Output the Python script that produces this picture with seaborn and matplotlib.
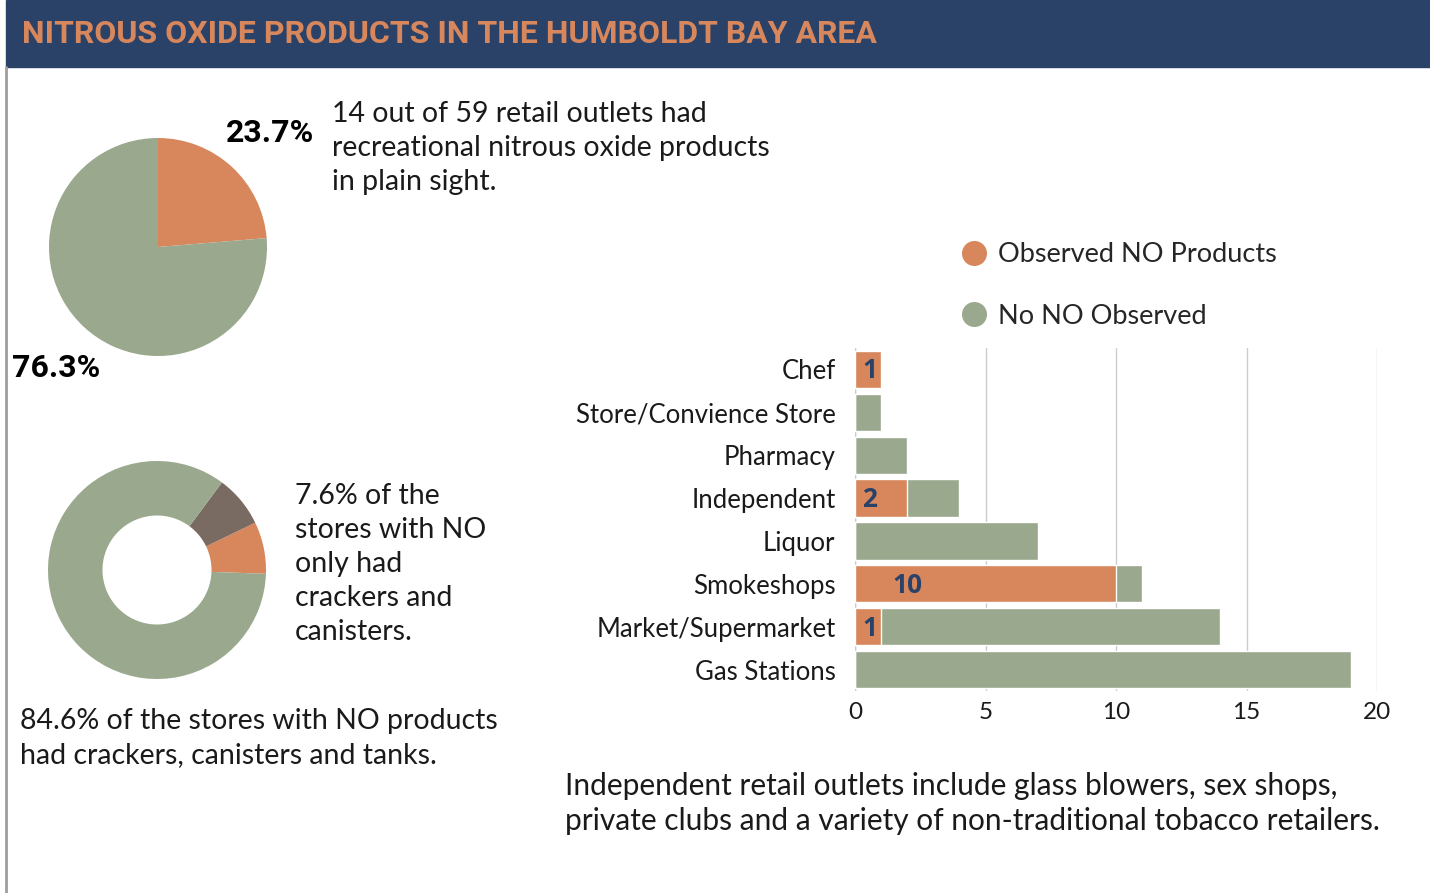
import matplotlib
matplotlib.use("Agg")
import matplotlib.pyplot as plt
from matplotlib import font_manager
from matplotlib.lines import Line2D
from matplotlib.patches import Rectangle
import seaborn as sns
import pandas as pd

# data
categories = ["Chef", "Store/Convience Store", "Pharmacy", "Independent",
              "Liquor", "Smokeshops", "Market/Supermarket", "Gas Stations"]
observed = [1, 0, 0, 2, 0, 10, 1, 0]
not_observed = [0, 1, 2, 2, 7, 1, 13, 19]
pie_values = [23.7, 76.3]
pie_labels = ["23.7%", "76.3%"]
donut_values = [7.7, 7.7, 84.6]   # crackers+canisters only, other, crackers/canisters/tanks
x_ticks = [0, 5, 10, 15, 20]

ORANGE = "#d8875c"
GREEN = "#9aa88e"
BROWN = "#7a6b62"
NAVY = "#2b4268"
INK = "#1a1a1a"

W, H = 1430, 893

installed = {f.name for f in font_manager.fontManager.ttflist}
narrow = next((f for f in ["Liberation Sans Narrow", "DejaVu Sans Condensed", "Roboto", "DejaVu Sans"]
               if f in installed), "DejaVu Sans")
body = next((f for f in ["Lato", "Open Sans", "DejaVu Sans"] if f in installed), "DejaVu Sans")
label_font = next((f for f in ["Open Sans", "Roboto", "DejaVu Sans"] if f in installed), "DejaVu Sans")

sns.set_theme(style="white")
plt.rcParams["font.family"] = [body, "DejaVu Sans"]

fig = plt.figure(figsize=(W / 100, H / 100), dpi=100)


def box(left, top, width, height):
    return [left / W, (H - top - height) / H, width / W, height / H]


# header band + left rule
fig.add_artist(Rectangle((6 / W, (H - 67) / H), 1 - 6 / W, 67 / H,
                         transform=fig.transFigure, color=NAVY, zorder=0))
fig.add_artist(Line2D([6 / W, 6 / W], [0, (H - 67) / H], transform=fig.transFigure,
                      color="#a39c9c", lw=2))
fig.text(22 / W, 1 - 34 / H, "NITROUS OXIDE PRODUCTS IN THE HUMBOLDT BAY AREA",
         family=narrow, weight="bold", color=ORANGE, fontsize=23, va="center", ha="left")

# pie
ax_pie = fig.add_axes(box(49, 138, 218, 218))
ax_pie.pie(pie_values, colors=[ORANGE, GREEN], startangle=90, counterclock=False,
           wedgeprops=dict(linewidth=0))
ax_pie.set_xlim(-1, 1)
ax_pie.set_ylim(-1, 1)
ax_pie.set_aspect("equal")
fig.text(226 / W, 1 - 133 / H, pie_labels[0], family=narrow, weight="bold",
         fontsize=23, va="center", ha="left", color="black")
fig.text(12 / W, 1 - 368 / H, pie_labels[1], family=narrow, weight="bold",
         fontsize=23, va="center", ha="left", color="black")
fig.text(332 / W, 1 - 101 / H,
         "14 out of 59 retail outlets had\nrecreational nitrous oxide products\nin plain sight.",
         fontsize=20.5, va="top", ha="left", color=INK, linespacing=1.38)

# donut
ax_don = fig.add_axes(box(48, 461, 218, 218))
ax_don.pie(donut_values, colors=[ORANGE, BROWN, GREEN], startangle=-2,
           wedgeprops=dict(width=0.5, linewidth=0))
ax_don.set_xlim(-1, 1)
ax_don.set_ylim(-1, 1)
ax_don.set_aspect("equal")
fig.text(295 / W, 1 - 483 / H,
         "7.6% of the\nstores with NO\nonly had\ncrackers and\ncanisters.",
         fontsize=20.5, va="top", ha="left", color=INK, linespacing=1.38)
fig.text(20 / W, 1 - 708 / H,
         "84.6% of the stores with NO products\nhad crackers, canisters and tanks.",
         fontsize=20.5, va="top", ha="left", color=INK, linespacing=1.38)

# stacked bars
df = pd.DataFrame({"category": categories, "observed": observed,
                   "not_observed": not_observed})
df["total"] = df["observed"] + df["not_observed"]

ax = fig.add_axes(box(855, 348, 522, 343))
sns.barplot(data=df, x="total", y="category", color=GREEN, width=0.87,
            saturation=1, ax=ax, zorder=2)
sns.barplot(data=df, x="observed", y="category", color=ORANGE, width=0.87,
            saturation=1, ax=ax, zorder=3)
for i, v in enumerate(df["observed"]):
    if v > 0:
        off = 5 if v < 10 else 27
        ax.annotate(str(v), (0, i), xytext=(off, -1), textcoords="offset points",
                    ha="left", va="center", fontsize=19, weight="bold", color=NAVY,
                    family=label_font, zorder=4)

ax.set_xlim(0, 20)
ax.set_ylim(7.5, -0.5)
ax.set_xticks(x_ticks)
ax.set_xticklabels([str(t) for t in x_ticks])
ax.grid(axis="x", color="#cccccc", lw=1, zorder=0)
ax.grid(axis="y", visible=False)
ax.set_axisbelow(True)
for s in ax.spines.values():
    s.set_visible(False)
ax.axvline(0, color="#cccccc", lw=1, zorder=1)
ax.set_xlabel("")
ax.set_ylabel("")
ax.tick_params(axis="x", labelsize=17.5, colors=INK, pad=8, length=0)
ax.tick_params(axis="y", labelsize=18.5, colors=INK, pad=14, length=0)

handles = [Line2D([], [], marker="o", ls="", markersize=17, color=ORANGE),
           Line2D([], [], marker="o", ls="", markersize=17, color=GREEN)]
fig.legend(handles, ["Observed NO Products", "No NO Observed"],
           loc="upper left", bbox_to_anchor=(933 / W, 1 - 218 / H), frameon=False,
           fontsize=19.5, handletextpad=0.3, labelspacing=1.35, handlelength=1.2)

fig.text(565 / W, 1 - 772 / H,
         "Independent retail outlets include glass blowers, sex shops,\n"
         "private clubs and a variety of non-traditional tobacco retailers.",
         fontsize=21.5, va="top", ha="left", color=INK, linespacing=1.32)

fig.savefig("out.png", dpi=100)
